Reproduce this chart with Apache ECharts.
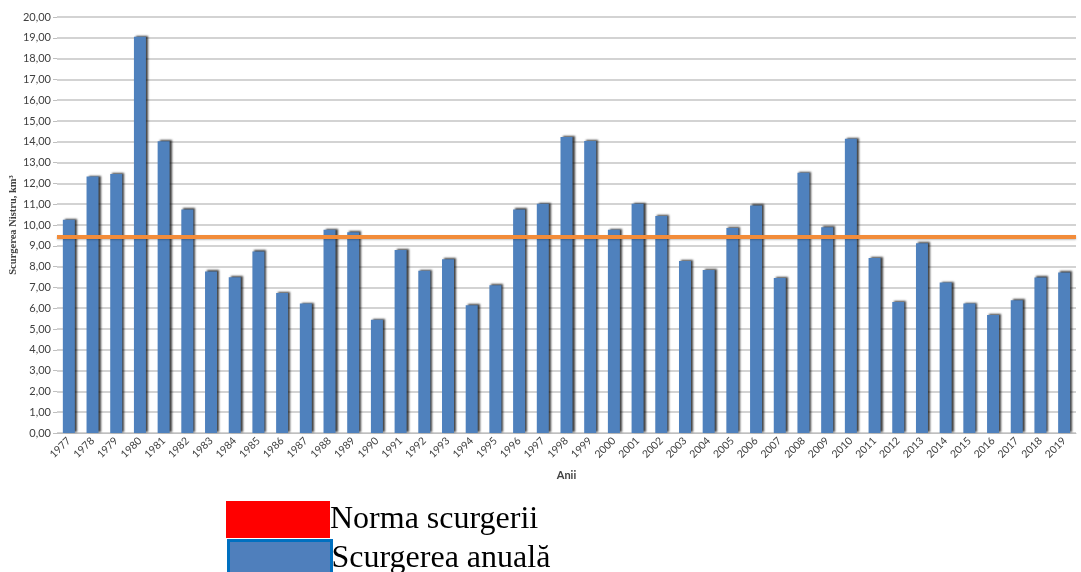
<!DOCTYPE html>
<html>
<head>
<meta charset="utf-8">
<script src="https://cdn.jsdelivr.net/npm/echarts@6/dist/echarts.min.js"></script>
<style>
html,body{margin:0;padding:0;background:#fff;}
#chart{width:1081px;height:572px;}
</style>
</head>
<body>
<div id="chart"></div>
<script>
var years = ['1977','1978','1979','1980','1981','1982','1983','1984','1985','1986','1987','1988','1989','1990','1991','1992','1993','1994','1995','1996','1997','1998','1999','2000','2001','2002','2003','2004','2005','2006','2007','2008','2009','2010','2011','2012','2013','2014','2015','2016','2017','2018','2019'];
var annualRunoff = [10.25,12.33,12.45,19.05,14.03,10.75,7.77,7.49,8.73,6.73,6.22,9.77,9.65,5.45,8.80,7.80,8.35,6.14,7.10,10.75,11.02,14.23,14.04,9.77,11.02,10.43,8.27,7.84,9.85,10.94,7.45,12.51,9.89,14.15,8.41,6.30,9.12,7.23,6.22,5.67,6.38,7.48,7.72];
var normValue = 9.44;
var seriesNames = ['Norma scurgerii', 'Scurgerea anuală'];
var yAxisName = 'Scurgerea Nistru, km³';
var xAxisName = 'Anii';

var legendText = {fontFamily: 'Liberation Serif', fontSize: 32, color: '#000', padding: [0, 0, 0, -5]};
var chart = echarts.init(document.getElementById('chart'), null, {renderer:'canvas'});
chart.setOption({
  backgroundColor: '#ffffff',
  animation: false,
  grid: {left: 57, right: 5, top: 17, bottom: 139, containLabel: false, outerBoundsMode: 'none'},
  legend: [
    {
      left: 226, top: 501, itemWidth: 104, itemHeight: 37, padding: 0,
      textStyle: legendText,
      data: [{name: seriesNames[0], icon: 'rect', itemStyle: {color: '#FF0000', borderWidth: 0}}]
    },
    {
      left: 227, top: 539, itemWidth: 103, itemHeight: 36, padding: 0,
      textStyle: legendText,
      data: [{name: seriesNames[1], icon: 'rect', itemStyle: {color: '#4F7FBC', borderColor: '#0070C0', borderWidth: 3}}]
    }
  ],
  xAxis: {
    type: 'category',
    data: years,
    name: xAxisName,
    nameLocation: 'middle',
    nameGap: 37,
    nameTextStyle: {fontFamily: 'Lato', fontWeight: 'bold', fontSize: 11, color: '#404040'},
    axisLine: {show: true, lineStyle: {color: '#BFBFBF', width: 1}},
    axisTick: {show: false},
    axisLabel: {rotate: 45, fontFamily: 'Lato', fontSize: 10.5, color: '#404040', margin: 6, interval: 0}
  },
  yAxis: {
    type: 'value',
    min: 0, max: 20, interval: 1,
    name: yAxisName,
    nameLocation: 'middle',
    nameGap: 38,
    nameMoveOverlap: false,
    nameRotate: 90,
    nameTextStyle: {fontFamily: 'Liberation Serif', fontWeight: 'bold', fontSize: 10.5, color: '#404040'},
    axisLine: {show: false},
    axisTick: {show: true, length: 4, lineStyle: {color: '#BFBFBF'}},
    splitLine: {show: true, lineStyle: {color: '#C4C4C4', width: 1.5}},
    axisLabel: {
      fontFamily: 'Lato', fontSize: 11, color: '#404040', margin: 6,
      formatter: function(v){ return v.toFixed(2).replace('.', ','); }
    }
  },
  series: [
    {
      name: seriesNames[1],
      type: 'bar',
      data: annualRunoff,
      barWidth: 12,
      itemStyle: {
        color: '#4F81BD',
        shadowColor: 'rgba(0,0,0,0.75)',
        shadowBlur: 2,
        shadowOffsetX: 2,
        shadowOffsetY: -1
      },
      z: 2
    },
    {
      name: seriesNames[0],
      type: 'line',
      data: [],
      symbol: 'none',
      itemStyle: {color: '#F28C3A'},
      markLine: {
        silent: true,
        symbol: ['none', 'none'],
        label: {show: false},
        lineStyle: {color: '#F28C3A', width: 4, type: 'solid', shadowColor: 'rgba(0,0,0,0.25)', shadowBlur: 2, shadowOffsetY: 1},
        data: [{yAxis: normValue}]
      },
      z: 5
    }
  ]
});
</script>
</body>
</html>
